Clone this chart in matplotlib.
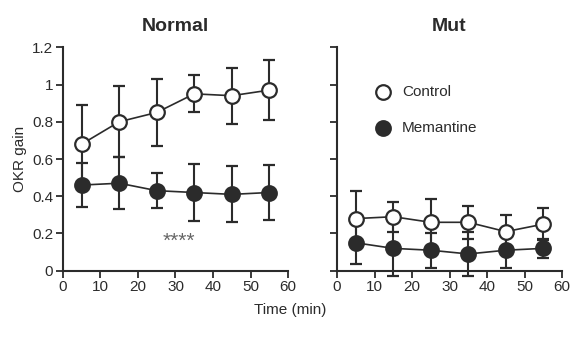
import numpy as np
from matplotlib import pyplot as plt

time = [5, 15, 25, 35, 45, 55]

# Normal
normal_ctrl = [0.68, 0.80, 0.85, 0.95, 0.94, 0.97]
normal_ctrl_err = [0.21, 0.19, 0.18, 0.10, 0.15, 0.16]
normal_mem = [0.46, 0.47, 0.43, 0.42, 0.41, 0.42]
normal_mem_err = [0.12, 0.14, 0.095, 0.155, 0.15, 0.15]

# Mut
mut_ctrl = [0.28, 0.29, 0.26, 0.26, 0.21, 0.25]
mut_ctrl_err = [0.15, 0.08, 0.125, 0.09, 0.09, 0.085]
mut_mem = [0.15, 0.12, 0.11, 0.09, 0.11, 0.12]
mut_mem_err = [0.115, 0.15, 0.093, 0.12, 0.095, 0.05]

yticks = [0, 0.2, 0.4, 0.6, 0.8, 1.0, 1.2]
ytick_labels = ['0', '0.2', '0.4', '0.6', '0.8', '1', '1.2']
xticks = [0, 10, 20, 30, 40, 50, 60]

ink = '#2b2b2b'
plt.rcParams['font.family'] = ['Liberation Sans', 'DejaVu Sans']

fig = plt.figure(figsize=(5.71, 3.46), dpi=100)
ax1 = fig.add_axes([0.1103, 0.2176, 0.3941, 0.6457])
ax2 = fig.add_axes([0.5902, 0.2176, 0.3941, 0.6457])


def draw_series(ax, y, err, face, z):
    ax.errorbar(time, y, yerr=err, color=ink, lw=1.2, elinewidth=1.5,
                capsize=4, capthick=1.5, marker='o', ms=10.5, mfc=face,
                mec=ink, mew=1.6, zorder=z, clip_on=False)


for ax, ctrl, ctrl_err, mem, mem_err, title in [
        (ax1, normal_ctrl, normal_ctrl_err, normal_mem, normal_mem_err, 'Normal'),
        (ax2, mut_ctrl, mut_ctrl_err, mut_mem, mut_mem_err, 'Mut')]:
    draw_series(ax, mem, mem_err, ink, 3)
    draw_series(ax, ctrl, ctrl_err, 'white', 4)
    ax.set_xlim(0, 60)
    ax.set_ylim(0, 1.2)
    ax.set_xticks(xticks)
    ax.set_yticks(yticks)
    for s in ['top', 'right']:
        ax.spines[s].set_visible(False)
    for s in ['left', 'bottom']:
        ax.spines[s].set_linewidth(1.5)
        ax.spines[s].set_color(ink)
    ax.tick_params(direction='out', length=5, width=1.3, color=ink,
                   labelsize=11, labelcolor=ink, pad=2)
    ax.set_title(title, fontsize=14, fontweight='bold', color=ink, pad=12)

ax1.set_yticklabels(ytick_labels)
ax2.set_yticklabels([])
ax1.set_ylabel('OKR gain', fontsize=11, color=ink, labelpad=4)
ax1.text(31, 0.16, '****', ha='center', va='center', fontsize=15, color='#666666')

# legend
ax2.plot(12.3, 0.958, 'o', ms=10.5, mfc='white', mec=ink, mew=1.6, clip_on=False)
ax2.text(17.3, 0.958, 'Control', va='center', fontsize=11, color=ink)
ax2.plot(12.3, 0.765, 'o', ms=10.5, mfc=ink, mec=ink, mew=1.6, clip_on=False)
ax2.text(17.3, 0.765, 'Memantine', va='center', fontsize=11, color=ink)

fig.text(0.508, 0.105, 'Time (min)', ha='center', va='center', fontsize=11, color=ink)

fig.savefig('out.png', dpi=100)
